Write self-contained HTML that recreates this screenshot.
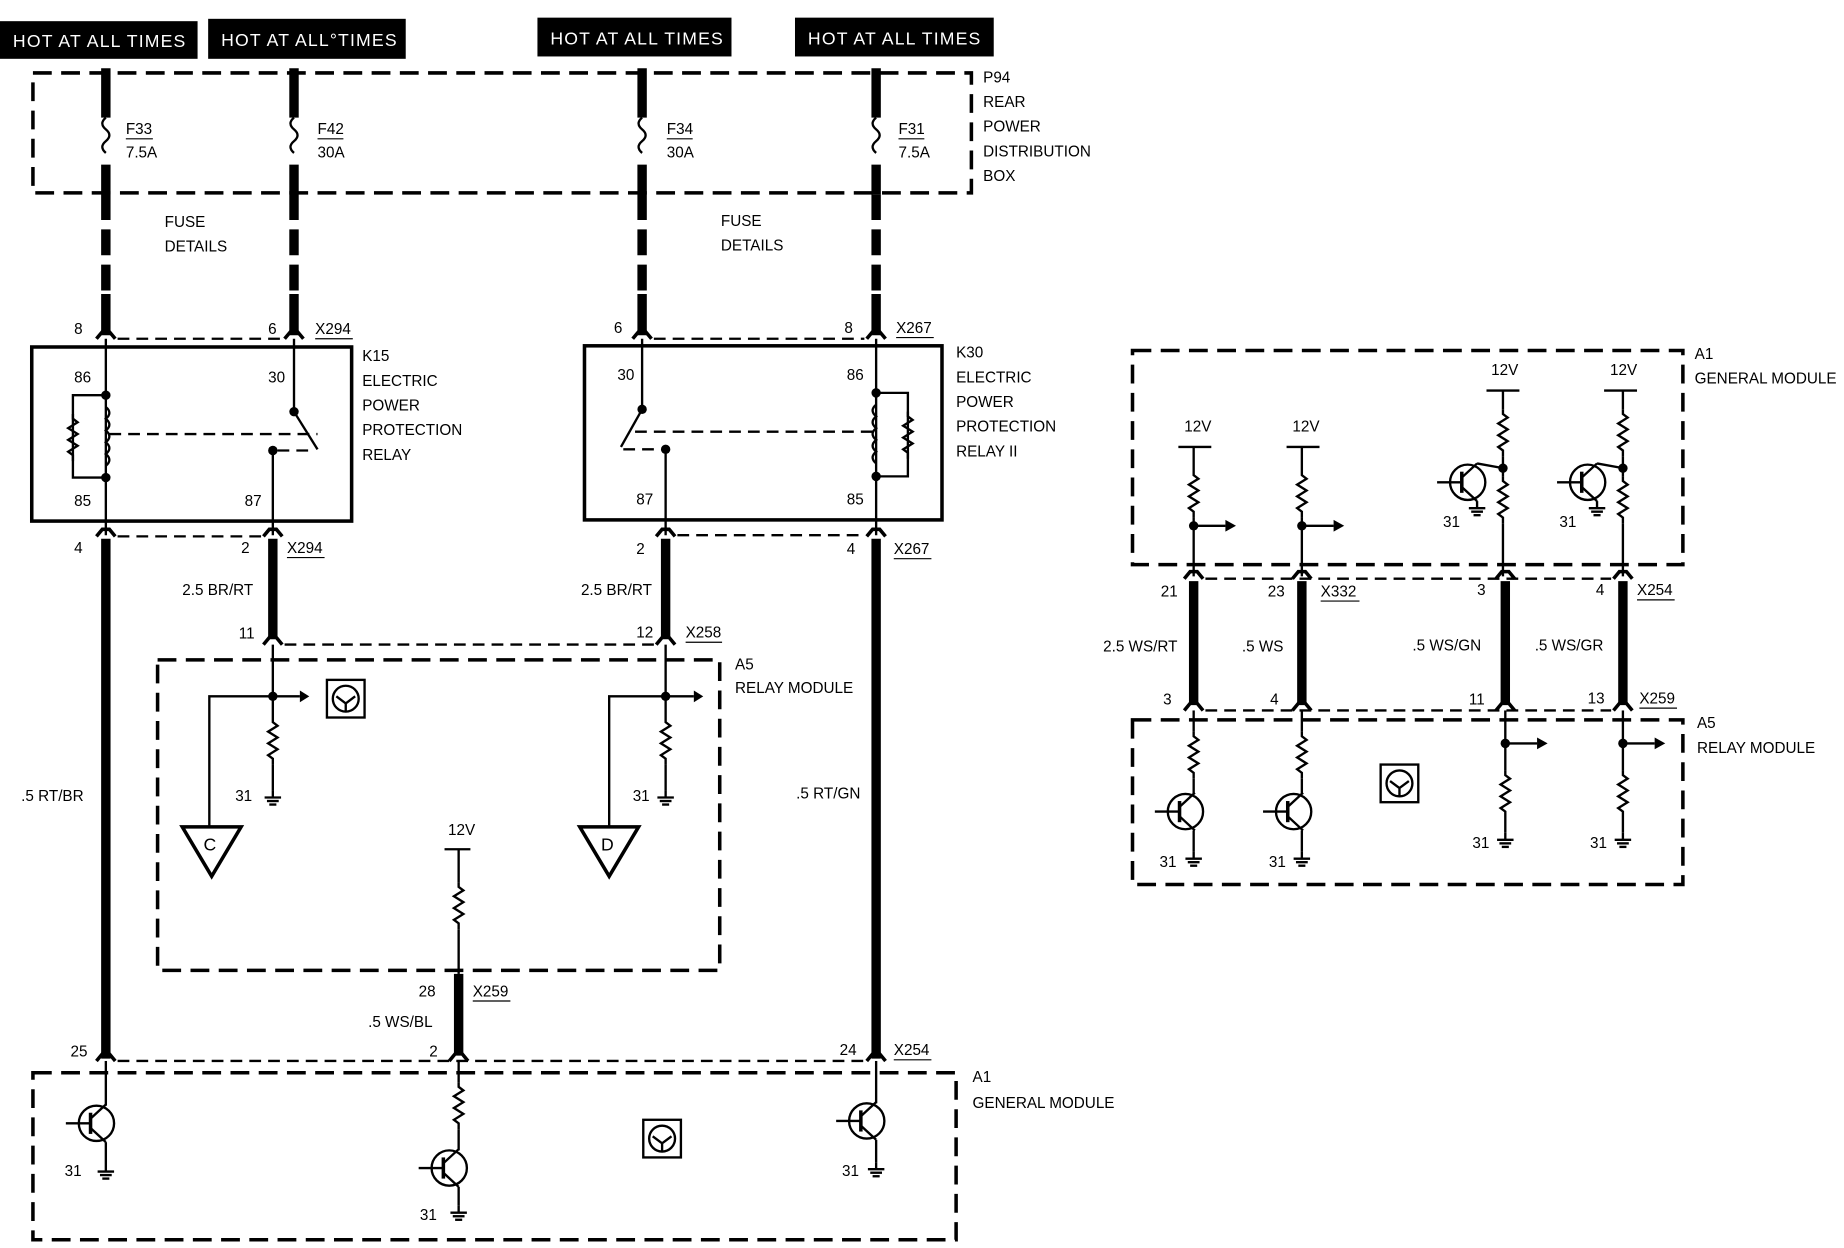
<!DOCTYPE html>
<html><head><meta charset="utf-8"><style>
html,body{margin:0;padding:0;background:#fff;}
svg{display:block}
text{font-family:"Liberation Sans",sans-serif;font-size:13px;fill:#000}
.hb{fill:#fff;font-size:15px;letter-spacing:1px}
.w{stroke:#000;stroke-width:8;fill:none}
.wd{stroke:#000;stroke-width:8;fill:none;stroke-dasharray:22 8}
.t{stroke:#000;stroke-width:2;fill:none}
.d{stroke:#000;stroke-width:2;fill:none;stroke-dasharray:10 6}
.db{stroke:#000;stroke-width:3;fill:none;stroke-dasharray:16 8}
.b{stroke:#000;stroke-width:3;fill:none}
</style></head><body>
<svg width="1844" height="1248" viewBox="0 0 1568 1061" preserveAspectRatio="none" xmlns="http://www.w3.org/2000/svg">
<defs>
<path id="res" d="M0 0 l0 4 l4 3 l-8 5 l8 5 l-8 5 l8 5 l-8 5 l4 3 l0 5" class="t"/>
<g id="gnd"><line x1="0" y1="0" x2="0" y2="6" class="t"/><line x1="-7" y1="6" x2="7" y2="6" class="t"/><line x1="-5" y1="9" x2="5" y2="9" class="t"/><line x1="-3" y1="12" x2="3" y2="12" class="t"/></g>
<g id="tr"><circle cx="0" cy="0" r="15" class="t"/><line x1="-5" y1="-9" x2="-5" y2="9" class="t" style="stroke-width:3"/><line x1="-26" y1="0" x2="-5" y2="0" class="t"/><line x1="-5" y1="-4" x2="8" y2="-16" class="t"/><line x1="-5" y1="4" x2="8" y2="16" class="t"/></g>
<g id="con"><path d="M-8 6 L-3 0 L3 0 L8 6" class="t" style="stroke-width:3"/></g>
<g id="sym"><rect x="0" y="0" width="32" height="32" class="t"/><circle cx="16" cy="16" r="11" class="t"/><path d="M8 14 l8 6 l8 -6 M16 20 l0 7" class="t"/></g>
</defs>

<rect x="0" y="18" width="168" height="32" fill="#000"/><text x="11" y="40" class="hb">HOT AT ALL TIMES</text>
<rect x="177" y="16" width="168" height="34" fill="#000"/><text x="188" y="39" class="hb">HOT AT ALL°TIMES</text>
<rect x="457" y="15" width="165" height="33" fill="#000"/><text x="468" y="38" class="hb">HOT AT ALL TIMES</text>
<rect x="676" y="15" width="169" height="33" fill="#000"/><text x="687" y="38" class="hb">HOT AT ALL TIMES</text>

<rect x="28" y="62" width="798" height="102" class="db"/>
<text x="836" y="70">P94</text><text x="836" y="91">REAR</text><text x="836" y="112">POWER</text><text x="836" y="133">DISTRIBUTION</text><text x="836" y="154">BOX</text>

<g>
<line x1="90" y1="58" x2="90" y2="100" class="w"/><path d="M90 100 q-6 5 0 10 q6 5 0 10 q-6 5 0 10" class="t"/><line x1="90" y1="140" x2="90" y2="165" class="w"/><line x1="90" y1="165" x2="90" y2="250" class="wd"/><line x1="90" y1="250" x2="90" y2="285" class="w"/>
<line x1="250" y1="58" x2="250" y2="100" class="w"/><path d="M250 100 q-6 5 0 10 q6 5 0 10 q-6 5 0 10" class="t"/><line x1="250" y1="140" x2="250" y2="165" class="w"/><line x1="250" y1="165" x2="250" y2="250" class="wd"/><line x1="250" y1="250" x2="250" y2="285" class="w"/>
<line x1="546" y1="58" x2="546" y2="100" class="w"/><path d="M546 100 q-6 5 0 10 q6 5 0 10 q-6 5 0 10" class="t"/><line x1="546" y1="140" x2="546" y2="165" class="w"/><line x1="546" y1="165" x2="546" y2="250" class="wd"/><line x1="546" y1="250" x2="546" y2="285" class="w"/>
<line x1="745" y1="58" x2="745" y2="100" class="w"/><path d="M745 100 q-6 5 0 10 q6 5 0 10 q-6 5 0 10" class="t"/><line x1="745" y1="140" x2="745" y2="165" class="w"/><line x1="745" y1="165" x2="745" y2="250" class="wd"/><line x1="745" y1="250" x2="745" y2="285" class="w"/>
</g>
<text x="107" y="114">F33</text><line x1="107" y1="118" x2="130" y2="118" class="t" style="stroke-width:1"/><text x="107" y="134">7.5A</text>
<text x="270" y="114">F42</text><line x1="270" y1="118" x2="292" y2="118" class="t" style="stroke-width:1"/><text x="270" y="134">30A</text>
<text x="567" y="114">F34</text><line x1="567" y1="118" x2="589" y2="118" class="t" style="stroke-width:1"/><text x="567" y="134">30A</text>
<text x="764" y="114">F31</text><line x1="764" y1="118" x2="786" y2="118" class="t" style="stroke-width:1"/><text x="764" y="134">7.5A</text>
<text x="140" y="193">FUSE</text><text x="140" y="214">DETAILS</text>
<text x="613" y="192">FUSE</text><text x="613" y="213">DETAILS</text>

<use href="#con" x="90" y="282"/><use href="#con" x="250" y="282"/><use href="#con" x="546" y="282"/><use href="#con" x="745" y="282"/>
<line x1="100" y1="288" x2="240" y2="288" class="d"/><line x1="556" y1="288" x2="735" y2="288" class="d"/>
<text x="63" y="284">8</text><text x="228" y="284">6</text><text x="268" y="284">X294</text><line x1="268" y1="288" x2="300" y2="288" class="t" style="stroke-width:1"/>
<text x="522" y="283">6</text><text x="718" y="283">8</text><text x="762" y="283">X267</text><line x1="762" y1="287" x2="794" y2="287" class="t" style="stroke-width:1"/>

<rect x="27" y="295" width="272" height="148" class="b"/>
<text x="308" y="307">K15</text><text x="308" y="328">ELECTRIC</text><text x="308" y="349">POWER</text><text x="308" y="370">PROTECTION</text><text x="308" y="391">RELAY</text>
<text x="63" y="325">86</text><text x="228" y="325">30</text><text x="63" y="430">85</text><text x="208" y="430">87</text>
<line x1="90" y1="288" x2="90" y2="455" class="t"/>
<circle cx="90" cy="336" r="4"/><circle cx="90" cy="406" r="4"/>
<path d="M90 336 L62 336 L62 406 L90 406" class="t"/>
<use href="#res" x="62" y="352"/>
<path d="M90 346 q6 5 0 10 q6 5 0 10 q6 5 0 10 q6 5 0 10 q6 5 0 10" class="t"/>
<line x1="93" y1="369" x2="270" y2="369" class="d"/>
<line x1="250" y1="288" x2="250" y2="350" class="t"/><circle cx="250" cy="350" r="4"/><line x1="250" y1="350" x2="270" y2="382" class="t"/>
<circle cx="232" cy="383" r="4"/><line x1="236" y1="383" x2="268" y2="383" class="d"/>
<line x1="232" y1="383" x2="232" y2="455" class="t"/>

<rect x="497" y="294" width="304" height="148" class="b"/>
<text x="813" y="304">K30</text><text x="813" y="325">ELECTRIC</text><text x="813" y="346">POWER</text><text x="813" y="367">PROTECTION</text><text x="813" y="388">RELAY II</text>
<text x="525" y="323">30</text><text x="720" y="323">86</text><text x="541" y="429">87</text><text x="720" y="429">85</text>
<line x1="745" y1="288" x2="745" y2="455" class="t"/>
<circle cx="745" cy="334" r="4"/><circle cx="745" cy="405" r="4"/>
<path d="M745 334 L772 334 L772 405 L745 405" class="t"/>
<use href="#res" x="772" y="350"/>
<path d="M745 344 q-6 5 0 10 q-6 5 0 10 q-6 5 0 10 q-6 5 0 10 q-6 5 0 10" class="t"/>
<line x1="540" y1="367" x2="742" y2="367" class="d"/>
<line x1="546" y1="288" x2="546" y2="348" class="t"/><circle cx="546" cy="348" r="4"/><line x1="546" y1="348" x2="528" y2="380" class="t"/>
<circle cx="566" cy="382" r="4"/><line x1="530" y1="382" x2="562" y2="382" class="d"/>
<line x1="566" y1="382" x2="566" y2="455" class="t"/>

<use href="#con" x="90" y="450"/><use href="#con" x="232" y="450"/><use href="#con" x="566" y="450"/><use href="#con" x="745" y="450"/>
<line x1="100" y1="456" x2="222" y2="456" class="d"/><line x1="576" y1="455" x2="735" y2="455" class="d"/>
<text x="63" y="470">4</text><text x="205" y="470">2</text><text x="244" y="470">X294</text><line x1="244" y1="474" x2="276" y2="474" class="t" style="stroke-width:1"/>
<text x="541" y="471">2</text><text x="720" y="471">4</text><text x="760" y="471">X267</text><line x1="760" y1="475" x2="792" y2="475" class="t" style="stroke-width:1"/>
<line x1="90" y1="458" x2="90" y2="900" class="w"/>
<line x1="745" y1="458" x2="745" y2="900" class="w"/>
<line x1="232" y1="458" x2="232" y2="542" class="w"/>
<line x1="566" y1="458" x2="566" y2="542" class="w"/>
<text x="155" y="506">2.5 BR/RT</text><text x="494" y="506">2.5 BR/RT</text>
<text x="18" y="681">.5 RT/BR</text><text x="677" y="679">.5 RT/GN</text>
<use href="#con" x="232" y="542"/><use href="#con" x="566" y="542"/>
<line x1="242" y1="548" x2="556" y2="548" class="d"/>
<text x="203" y="543">11</text><text x="541" y="542">12</text><text x="583" y="542">X258</text><line x1="583" y1="546" x2="614" y2="546" class="t" style="stroke-width:1"/>

<rect x="134" y="561" width="478" height="264" class="db"/>
<text x="625" y="569">A5</text><text x="625" y="589">RELAY MODULE</text>
<line x1="232" y1="548" x2="232" y2="610" class="t"/><circle cx="232" cy="592" r="4"/>
<line x1="232" y1="592" x2="255" y2="592" class="t"/><path d="M255 587 l8 5 l-8 5z"/>
<use href="#sym" x="278" y="578"/>
<use href="#res" x="232" y="610"/><line x1="232" y1="650" x2="232" y2="672" class="t"/><use href="#gnd" x="232" y="672"/><text x="200" y="681">31</text>
<path d="M232 592 L178 592 L178 703" class="t"/>
<path d="M155 703 L205 703 L180 745 Z" class="b"/><text x="173" y="723" style="font-size:15px">C</text>
<line x1="566" y1="548" x2="566" y2="610" class="t"/><circle cx="566" cy="592" r="4"/>
<line x1="566" y1="592" x2="590" y2="592" class="t"/><path d="M590 587 l8 5 l-8 5z"/>
<use href="#res" x="566" y="610"/><line x1="566" y1="650" x2="566" y2="672" class="t"/><use href="#gnd" x="566" y="672"/><text x="538" y="681">31</text>
<path d="M566 592 L518 592 L518 703" class="t"/>
<path d="M493 703 L543 703 L518 745 Z" class="b"/><text x="511" y="723" style="font-size:15px">D</text>
<text x="381" y="710">12V</text><line x1="378" y1="722" x2="400" y2="722" class="t"/>
<line x1="390" y1="722" x2="390" y2="750" class="t"/><use href="#res" x="390" y="750"/><line x1="390" y1="790" x2="390" y2="828" class="t"/>
<line x1="390" y1="828" x2="390" y2="896" class="w"/>
<text x="356" y="847">28</text><text x="402" y="847">X259</text><line x1="402" y1="851" x2="434" y2="851" class="t" style="stroke-width:1"/>
<text x="313" y="873">.5 WS/BL</text>

<use href="#con" x="90" y="896"/><use href="#con" x="390" y="896"/><use href="#con" x="745" y="896"/>
<line x1="100" y1="902" x2="735" y2="902" class="d"/>
<text x="60" y="898">25</text><text x="365" y="898">2</text><text x="714" y="897">24</text><text x="760" y="897">X254</text><line x1="760" y1="901" x2="792" y2="901" class="t" style="stroke-width:1"/>

<rect x="28" y="912" width="785" height="142" class="db"/>
<text x="827" y="920">A1</text><text x="827" y="942">GENERAL MODULE</text>
<line x1="90" y1="902" x2="90" y2="940" class="t"/>
<use href="#tr" x="82" y="955"/><line x1="90" y1="971" x2="90" y2="990" class="t"/><use href="#gnd" x="90" y="990"/><text x="55" y="1000">31</text>
<line x1="390" y1="902" x2="390" y2="920" class="t"/><use href="#res" x="390" y="920"/><line x1="390" y1="960" x2="390" y2="978" class="t"/>
<use href="#tr" x="382" y="993"/><line x1="390" y1="1009" x2="390" y2="1025" class="t"/><use href="#gnd" x="390" y="1025"/><text x="357" y="1037">31</text>
<use href="#sym" x="547" y="952"/>
<line x1="745" y1="902" x2="745" y2="938" class="t"/>
<use href="#tr" x="737" y="953"/><line x1="745" y1="969" x2="745" y2="988" class="t"/><use href="#gnd" x="745" y="988"/><text x="716" y="1000">31</text>

<rect x="963" y="298" width="468" height="182" class="db"/>
<text x="1441" y="305">A1</text><text x="1441" y="326">GENERAL MODULE</text>
<text x="1007" y="367">12V</text><line x1="1002" y1="380" x2="1030" y2="380" class="t"/>
<line x1="1015" y1="380" x2="1015" y2="400" class="t"/><use href="#res" x="1015" y="400"/><line x1="1015" y1="440" x2="1015" y2="490" class="t"/>
<circle cx="1015" cy="447" r="4"/><line x1="1015" y1="447" x2="1042" y2="447" class="t"/><path d="M1042 442 l9 5 l-9 5z"/>
<text x="1099" y="367">12V</text><line x1="1094" y1="380" x2="1122" y2="380" class="t"/>
<line x1="1107" y1="380" x2="1107" y2="400" class="t"/><use href="#res" x="1107" y="400"/><line x1="1107" y1="440" x2="1107" y2="490" class="t"/>
<circle cx="1107" cy="447" r="4"/><line x1="1107" y1="447" x2="1134" y2="447" class="t"/><path d="M1134 442 l9 5 l-9 5z"/>
<text x="1268" y="319">12V</text><line x1="1264" y1="332" x2="1292" y2="332" class="t"/>
<line x1="1278" y1="332" x2="1278" y2="348" class="t"/><use href="#res" x="1278" y="348"/><line x1="1278" y1="388" x2="1278" y2="405" class="t"/>
<circle cx="1278" cy="398" r="4"/><use href="#res" x="1278" y="405"/><line x1="1278" y1="445" x2="1278" y2="490" class="t"/>
<use href="#tr" x="1248" y="410"/><line x1="1256" y1="394" x2="1278" y2="398" class="t"/><use href="#gnd" x="1256" y="426"/><text x="1227" y="448">31</text>
<text x="1369" y="319">12V</text><line x1="1364" y1="332" x2="1392" y2="332" class="t"/>
<line x1="1380" y1="332" x2="1380" y2="348" class="t"/><use href="#res" x="1380" y="348"/><line x1="1380" y1="388" x2="1380" y2="405" class="t"/>
<circle cx="1380" cy="398" r="4"/><use href="#res" x="1380" y="405"/><line x1="1380" y1="445" x2="1380" y2="490" class="t"/>
<use href="#tr" x="1350" y="410"/><line x1="1358" y1="394" x2="1380" y2="398" class="t"/><use href="#gnd" x="1358" y="426"/><text x="1326" y="448">31</text>

<use href="#con" x="1015" y="486"/><use href="#con" x="1107" y="486"/><use href="#con" x="1280" y="486"/><use href="#con" x="1380" y="486"/>
<line x1="1025" y1="492" x2="1370" y2="492" class="d"/>
<text x="987" y="507">21</text><text x="1078" y="507">23</text><text x="1123" y="507">X332</text><line x1="1123" y1="511" x2="1156" y2="511" class="t" style="stroke-width:1"/>
<text x="1256" y="506">3</text><text x="1357" y="506">4</text><text x="1392" y="506">X254</text><line x1="1392" y1="510" x2="1424" y2="510" class="t" style="stroke-width:1"/>
<line x1="1015" y1="494" x2="1015" y2="598" class="w"/><line x1="1107" y1="494" x2="1107" y2="598" class="w"/>
<line x1="1280" y1="494" x2="1280" y2="598" class="w"/><line x1="1380" y1="494" x2="1380" y2="598" class="w"/>
<text x="938" y="554">2.5 WS/RT</text><text x="1056" y="554">.5 WS</text><text x="1201" y="553">.5 WS/GN</text><text x="1305" y="553">.5 WS/GR</text>
<use href="#con" x="1015" y="598"/><use href="#con" x="1107" y="598"/><use href="#con" x="1280" y="598"/><use href="#con" x="1380" y="598"/>
<line x1="1025" y1="604" x2="1370" y2="604" class="d"/>
<text x="989" y="599">3</text><text x="1080" y="599">4</text><text x="1249" y="599">11</text><text x="1350" y="598">13</text><text x="1394" y="598">X259</text><line x1="1394" y1="602" x2="1426" y2="602" class="t" style="stroke-width:1"/>

<rect x="963" y="612" width="468" height="140" class="db"/>
<text x="1443" y="619">A5</text><text x="1443" y="640">RELAY MODULE</text>
<line x1="1015" y1="604" x2="1015" y2="622" class="t"/><use href="#res" x="1015" y="622"/><line x1="1015" y1="662" x2="1015" y2="675" class="t"/>
<use href="#tr" x="1008" y="690"/><line x1="1015" y1="706" x2="1015" y2="724" class="t"/><use href="#gnd" x="1015" y="724"/><text x="986" y="737">31</text>
<line x1="1107" y1="604" x2="1107" y2="622" class="t"/><use href="#res" x="1107" y="622"/><line x1="1107" y1="662" x2="1107" y2="675" class="t"/>
<use href="#tr" x="1100" y="690"/><line x1="1107" y1="706" x2="1107" y2="724" class="t"/><use href="#gnd" x="1107" y="724"/><text x="1079" y="737">31</text>
<use href="#sym" x="1174" y="650"/>
<line x1="1280" y1="604" x2="1280" y2="655" class="t"/><circle cx="1280" cy="632" r="4"/><line x1="1280" y1="632" x2="1307" y2="632" class="t"/><path d="M1307 627 l9 5 l-9 5z"/>
<use href="#res" x="1280" y="655"/><line x1="1280" y1="695" x2="1280" y2="708" class="t"/><use href="#gnd" x="1280" y="708"/><text x="1252" y="721">31</text>
<line x1="1380" y1="604" x2="1380" y2="655" class="t"/><circle cx="1380" cy="632" r="4"/><line x1="1380" y1="632" x2="1407" y2="632" class="t"/><path d="M1407 627 l9 5 l-9 5z"/>
<use href="#res" x="1380" y="655"/><line x1="1380" y1="695" x2="1380" y2="708" class="t"/><use href="#gnd" x="1380" y="708"/><text x="1352" y="721">31</text>
</svg>
</body></html>
